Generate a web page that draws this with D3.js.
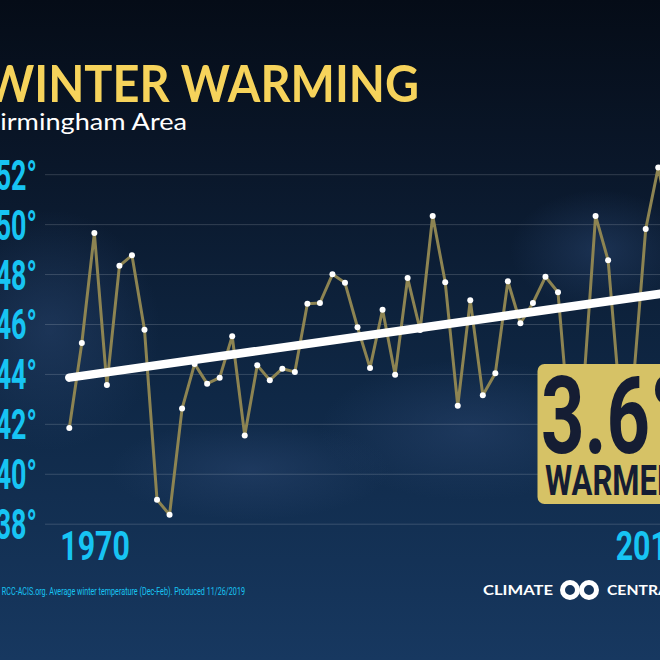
<!DOCTYPE html>
<html>
<head>
<meta charset="utf-8">
<script src="https://cdn.jsdelivr.net/npm/d3@7"></script>
<style>
  html, body { margin: 0; padding: 0; background: #0b1b30; }
  svg { display: block; }
</style>
</head>
<body>
<div id="chart"></div>
<script>
(function() {
  const width = 660;
  const height = 660;

  // Winter (Dec-Feb) average temperature, Birmingham area, degrees F
  const years = d3.range(1970, 2020);
  const temps = [
    41.85, 45.26, 49.66, 43.58, 48.35, 48.77, 45.79, 38.98, 38.38, 42.63,
    44.42, 43.63, 43.87, 45.53, 41.55, 44.37, 43.77, 44.23, 44.10, 46.83,
    46.86, 48.01, 47.67, 45.89, 44.26, 46.59, 43.99, 47.86, 45.78, 50.35,
    47.69, 42.74, 46.97, 43.17, 44.05, 47.73, 46.05, 46.86, 47.91, 47.29,
    41.4, 43.2, 50.35, 48.57, 42.6, 43.6, 49.82, 52.29, 49.8, 48.5
  ];
  const trendYears = [1970, 2019];
  const trendVals = [43.87, 47.36];
  const yTicks = [38, 40, 42, 44, 46, 48, 50, 52];
  const xLabels = [1970, 2019];

  const cyan = "#17c4f3";
  const condensed = "Roboto, 'DejaVu Sans', sans-serif";
  const sans = "Lato, 'Open Sans', sans-serif";

  const svg = d3.select("#chart")
    .append("svg")
    .attr("width", width)
    .attr("height", height)
    .attr("viewBox", `0 0 ${width} ${height}`);

  const defs = svg.append("defs");

  // background
  const bg = defs.append("linearGradient")
    .attr("id", "bg")
    .attr("x1", 0).attr("y1", 0).attr("x2", 0).attr("y2", 1);
  bg.append("stop").attr("offset", "0%").attr("stop-color", "#050c17");
  bg.append("stop").attr("offset", "25%").attr("stop-color", "#0a172a");
  bg.append("stop").attr("offset", "60%").attr("stop-color", "#0f2846");
  bg.append("stop").attr("offset", "100%").attr("stop-color", "#173860");

  const glow = defs.append("radialGradient").attr("id", "glow");
  glow.append("stop").attr("offset", "0%").attr("stop-color", "#2a4670").attr("stop-opacity", 0.5);
  glow.append("stop").attr("offset", "100%").attr("stop-color", "#2a4670").attr("stop-opacity", 0);

  svg.append("rect")
    .attr("width", width)
    .attr("height", height)
    .attr("fill", "url(#bg)");

  const clouds = [
    { cx: 50, cy: 330, rx: 110, ry: 120 },
    { cx: 470, cy: 430, rx: 150, ry: 70 },
    { cx: 250, cy: 470, rx: 140, ry: 50 },
    { cx: 600, cy: 250, rx: 90, ry: 60 }
  ];
  svg.selectAll(".cloud")
    .data(clouds)
    .join("ellipse")
    .attr("class", "cloud")
    .attr("cx", d => d.cx).attr("cy", d => d.cy)
    .attr("rx", d => d.rx).attr("ry", d => d.ry)
    .attr("fill", "url(#glow)");

  const x = d3.scaleLinear()
    .domain([1970, 2019])
    .range([69.3, 683.3]);

  const y = d3.scaleLinear()
    .domain([38, 52])
    .range([524.2, 174.7]);

  // gridlines
  svg.append("g")
    .selectAll("line")
    .data(yTicks)
    .join("line")
    .attr("x1", 45)
    .attr("x2", width)
    .attr("y1", d => y(d))
    .attr("y2", d => y(d))
    .attr("stroke", "#ffffff")
    .attr("stroke-opacity", 0.16)
    .attr("stroke-width", 1);

  // y labels (condensed look via horizontal scale)
  svg.append("g")
    .selectAll("g")
    .data(yTicks)
    .join("g")
    .attr("transform", d => `translate(37,${y(d) + 15}) scale(0.64,1)`)
    .append("text")
    .attr("text-anchor", "end")
    .attr("font-family", condensed)
    .attr("font-weight", 700)
    .attr("font-size", "42px")
    .attr("fill", cyan)
    .text(d => d + "°");

  // data line
  const line = d3.line()
    .x((d, i) => x(years[i]))
    .y(d => y(d));

  svg.append("path")
    .datum(temps)
    .attr("d", line)
    .attr("fill", "none")
    .attr("stroke", "#8d8452")
    .attr("stroke-width", 3)
    .attr("stroke-linejoin", "round");

  svg.append("g")
    .selectAll("circle")
    .data(temps)
    .join("circle")
    .attr("cx", (d, i) => x(years[i]))
    .attr("cy", d => y(d))
    .attr("r", 3)
    .attr("fill", "#ffffff");

  // trend line
  svg.append("line")
    .attr("x1", x(trendYears[0]))
    .attr("y1", y(trendVals[0]))
    .attr("x2", x(trendYears[1]))
    .attr("y2", y(trendVals[1]))
    .attr("stroke", "#ffffff")
    .attr("stroke-width", 8.5)
    .attr("stroke-linecap", "round");

  // x labels
  svg.append("g")
    .selectAll("g")
    .data(xLabels)
    .join("g")
    .attr("transform", (d, i) => `translate(${i === 0 ? x(d) - 9 : x(d) + 2},560) scale(0.74,1)`)
    .append("text")
    .attr("text-anchor", (d, i) => i === 0 ? "start" : "end")
    .attr("font-family", condensed)
    .attr("font-weight", 700)
    .attr("font-size", "41px")
    .attr("fill", cyan)
    .text(d => d);

  // callout box
  svg.append("rect")
    .attr("x", 537.5)
    .attr("y", 364)
    .attr("width", 160)
    .attr("height", 140)
    .attr("rx", 7)
    .attr("fill", "#d6c266");

  svg.append("g")
    .attr("transform", "translate(541,453) scale(0.71,1)")
    .append("text")
    .attr("font-family", condensed)
    .attr("font-weight", 700)
    .attr("font-size", "107px")
    .attr("fill", "#151d33")
    .text("3.6°");

  svg.append("g")
    .attr("transform", "translate(545,495) scale(0.74,1)")
    .append("text")
    .attr("font-family", condensed)
    .attr("font-weight", 700)
    .attr("font-size", "42px")
    .attr("fill", "#151d33")
    .text("WARMER");

  // title
  svg.append("text")
    .attr("x", -15)
    .attr("y", 102)
    .attr("textLength", 434)
    .attr("lengthAdjust", "spacingAndGlyphs")
    .attr("font-family", sans)
    .attr("font-weight", 700)
    .attr("font-size", "51px")
    .attr("fill", "#f6d35b")
    .text("WINTER WARMING");

  svg.append("text")
    .attr("x", -17)
    .attr("y", 130)
    .attr("textLength", 204)
    .attr("lengthAdjust", "spacingAndGlyphs")
    .attr("font-family", sans)
    .attr("font-size", "24px")
    .attr("fill", "#ffffff")
    .text("Birmingham Area");

  // source
  svg.append("text")
    .attr("x", -24)
    .attr("y", 595)
    .attr("textLength", 269)
    .attr("lengthAdjust", "spacingAndGlyphs")
    .attr("font-family", condensed)
    .attr("font-size", "10.5px")
    .attr("fill", cyan)
    .text("Source: RCC-ACIS.org. Average winter temperature (Dec-Feb). Produced 11/26/2019");

  // Climate Central logo
  const logo = svg.append("g");
  logo.append("text")
    .attr("x", 483)
    .attr("y", 594.5)
    .attr("textLength", 70)
    .attr("lengthAdjust", "spacingAndGlyphs")
    .attr("font-family", sans)
    .attr("font-weight", 700)
    .attr("font-size", "14px")
    .attr("fill", "#ffffff")
    .text("CLIMATE");
  logo.selectAll("circle")
    .data([570, 589])
    .join("circle")
    .attr("cx", d => d)
    .attr("cy", 590)
    .attr("r", 7.5)
    .attr("fill", "none")
    .attr("stroke", "#ffffff")
    .attr("stroke-width", 5);
  logo.append("text")
    .attr("x", 607)
    .attr("y", 594.5)
    .attr("textLength", 70)
    .attr("lengthAdjust", "spacingAndGlyphs")
    .attr("font-family", sans)
    .attr("font-weight", 700)
    .attr("font-size", "14px")
    .attr("fill", "#ffffff")
    .text("CENTRAL");
})();
</script>
</body>
</html>
